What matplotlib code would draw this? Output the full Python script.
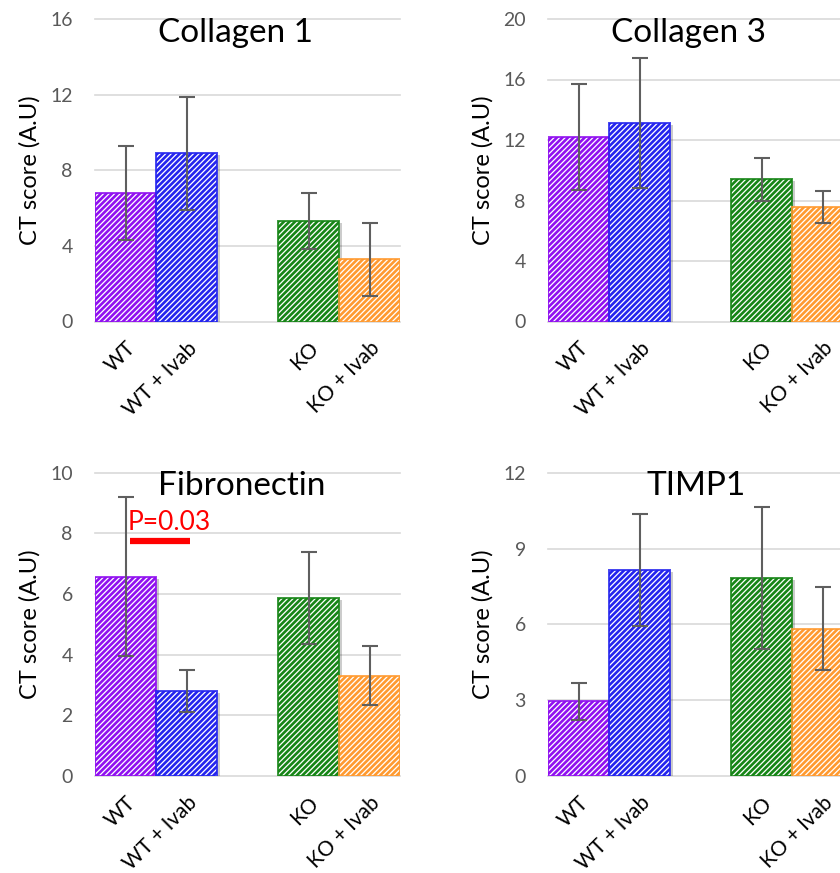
import matplotlib
matplotlib.use("Agg")
import matplotlib.pyplot as plt
from matplotlib import transforms
import numpy as np

plt.rcParams['font.family'] = ['Lato', 'DejaVu Sans']
plt.rcParams['hatch.linewidth'] = 1.9

# ---- data ----
categories = ["WT", "WT + Ivab", "KO", "KO + Ivab"]
bar_colors = ["#9010F0", "#2424EE", "#168516", "#FF9A30"]

collagen1_mean = [6.8, 8.9, 5.3, 3.28]
collagen1_err = [2.5, 3.0, 1.48, 1.92]

collagen3_mean = [12.2, 13.15, 9.4, 7.56]
collagen3_err = [3.5, 4.3, 1.4, 1.05]

fibronectin_mean = [6.57, 2.8, 5.86, 3.3]
fibronectin_err = [2.62, 0.7, 1.52, 0.97]

timp1_mean = [2.95, 8.14, 7.83, 5.83]
timp1_err = [0.72, 2.22, 2.8, 1.64]

panels = [
    ("Collagen 1", collagen1_mean, collagen1_err, [0, 4, 8, 12, 16]),
    ("Collagen 3", collagen3_mean, collagen3_err, [0, 4, 8, 12, 16, 20]),
    ("Fibronectin", fibronectin_mean, fibronectin_err, [0, 2, 4, 6, 8, 10]),
    ("TIMP1", timp1_mean, timp1_err, [0, 3, 6, 9, 12]),
]

x_pos = [0, 1, 3, 4]

W, H = 840, 873
fig = plt.figure(figsize=(W / 100, H / 100), dpi=100)

# axes boxes in pixels: (left, top, right, bottom)
boxes = [
    (95, 19, 400, 321.5),
    (548, 19, 853, 321.5),
    (95, 472.7, 400, 776),
    (548, 472.7, 853, 776),
]
title_x = [0.46, 0.462, 0.48, 0.487]

gray_txt = "#595959"
grid_col = "#D9D9D9"

axes = []
for (title, mean, err, yticks), (l, t, r, b), tx in zip(panels, boxes, title_x):
    ax = fig.add_axes([l / W, 1 - b / H, (r - l) / W, (b - t) / H])
    axes.append(ax)
    ax.set_xlim(-0.5, 4.5)
    ax.set_ylim(yticks[0], yticks[-1])
    ax.set_yticks(yticks)
    for yv in yticks:
        ax.axhline(yv, color=grid_col, lw=1.2, zorder=0, clip_on=False)

    # soft shadow behind each bar
    shadow = transforms.ScaledTranslation(2.5 / 100, -2.0 / 100, fig.dpi_scale_trans)
    ax.bar(x_pos, mean, width=1.0, color="#000000", alpha=0.2, lw=0,
           transform=ax.transData + shadow, zorder=1)
    # hatched bars
    for xp, m, c in zip(x_pos, mean, bar_colors):
        ax.bar(xp, m, width=1.0, facecolor="white", edgecolor=c, hatch="//////",
               lw=0, zorder=2)
        ax.bar(xp, m, width=1.0, facecolor="none", edgecolor=c, lw=1.4,
               alpha=0.85, zorder=3)
    ax.errorbar(x_pos, mean, yerr=err, fmt="none", ecolor="#5F5F5F",
                elinewidth=1.5, capsize=6, capthick=1.5, zorder=4)

    ax.set_xticks(x_pos)
    ax.set_xticklabels(categories, rotation=45, ha="right", va="top",
                       rotation_mode="anchor", fontsize=15, color="black")
    ax.tick_params(axis="x", length=0, pad=12)
    ax.tick_params(axis="y", length=0, pad=16, labelsize=14, labelcolor=gray_txt)
    for s in ax.spines.values():
        s.set_visible(False)
    ax.set_ylabel("CT score (A.U)", fontsize=17, labelpad=7)
    ax.text(tx, 0.955, title, transform=ax.transAxes, ha="center", va="center",
            fontsize=24, color="black", zorder=5)

# significance mark on Fibronectin panel
axf = axes[2]
axf.text(0.04, 8.35, "P=0.03", color="red", fontsize=19, ha="left",
         va="center", zorder=6)
axf.plot([0.08, 1.05], [7.75, 7.75], color="red", lw=4.5, solid_capstyle="butt",
         zorder=6)

fig.savefig("out.png", dpi=100)
